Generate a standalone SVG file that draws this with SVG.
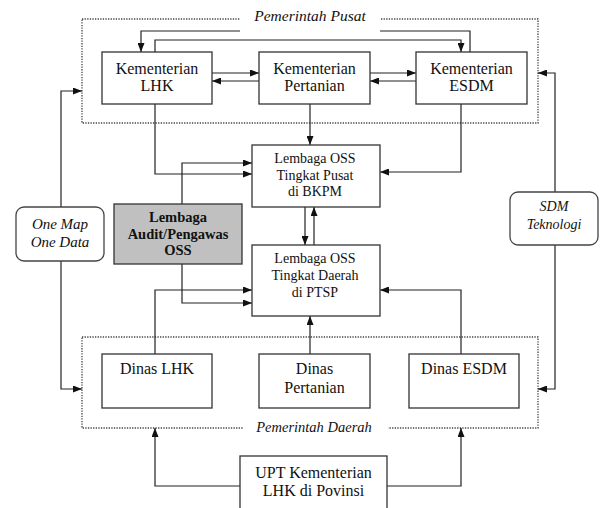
<svg xmlns="http://www.w3.org/2000/svg" width="603" height="508" viewBox="0 0 603 508">
<defs>
<style>
.box{fill:#fff;stroke:#333;stroke-width:1.3}
.audit{fill:#c0c0c0;stroke:#333;stroke-width:1.3}
.round{fill:#fff;stroke:#444;stroke-width:1.3}
.grp{fill:none;stroke:#444;stroke-width:1.3;stroke-dasharray:1.3 1.3}
.c{fill:none;stroke:#222;stroke-width:1.2;marker-end:url(#ah)}
.cn{fill:none;stroke:#222;stroke-width:1.2}
text{font-family:"Liberation Serif","Times New Roman",serif;fill:#111;text-anchor:middle}
.t16{font-size:16px}
.t14{font-size:14px}
.b{font-size:14.5px;font-weight:bold}
.i{font-style:italic}
</style>
<marker id="ah" markerWidth="9" markerHeight="7" refX="9" refY="3.5" orient="auto" markerUnits="userSpaceOnUse">
<path d="M0,0 L9,3.5 L0,7 z" fill="#111"/>
</marker>
</defs>
<rect width="603" height="508" fill="#fff"/>

<g id="pemerintah-pusat">
<rect class="grp" x="82" y="19" width="456" height="104"/>
</g>
<g id="pemerintah-daerah">
<rect class="grp" x="82" y="337" width="456" height="91"/>
</g>

<g id="connectors">
<path class="c" d="M470,52 V31 H141 V52"/>
<path class="c" d="M155,52 V40 H461 V52"/>
<path class="c" d="M212,73 H259"/>
<path class="c" d="M259,81 H212"/>
<path class="c" d="M370,73 H416"/>
<path class="c" d="M416,81 H370"/>
<path class="c" d="M310,104 V145"/>
<path class="c" d="M155,104 V174 H252"/>
<path class="c" d="M461,104 V172 H380"/>
<path class="c" d="M182,204 V163 H252"/>
<path class="c" d="M182,264 V303 H252"/>
<path class="c" d="M305,207 V245"/>
<path class="c" d="M314,245 V207"/>
<path class="c" d="M155,354 V290 H252"/>
<path class="c" d="M461,354 V290 H380"/>
<path class="c" d="M310,354 V316"/>
<path class="c" d="M240,486 H155 V428"/>
<path class="c" d="M387,486 H461 V428"/>
<path class="c" d="M61,207 V91 H82"/>
<path class="c" d="M61,261 V389 H82"/>
<path class="c" d="M555,192 V73 H538"/>
<path class="c" d="M555,245 V389 H538"/>
</g>

<g id="label-pusat">
<rect x="240" y="8" width="140" height="27" fill="#fff"/>
<text class="i" x="310" y="21" style="font-size:15.5px">Pemerintah Pusat</text>
</g>
<g id="label-daerah">
<rect x="243" y="420" width="145" height="16" fill="#fff"/>
<text class="i" x="314" y="432" style="font-size:14.5px">Pemerintah Daerah</text>
</g>

<g id="kementerian-lhk">
<rect class="box" x="102" y="52" width="110" height="52"/>
<text class="t16" x="157" y="74">Kementerian</text>
<text class="t16" x="157" y="91">LHK</text>
</g>
<g id="kementerian-pertanian">
<rect class="box" x="259" y="52" width="111" height="52"/>
<text class="t16" x="314.5" y="74">Kementerian</text>
<text class="t16" x="314.5" y="91">Pertanian</text>
</g>
<g id="kementerian-esdm">
<rect class="box" x="416" y="52" width="111" height="52"/>
<text class="t16" x="471.5" y="74">Kementerian</text>
<text class="t16" x="471.5" y="91">ESDM</text>
</g>

<g id="oss-pusat">
<rect class="box" x="252" y="145" width="128" height="62"/>
<text class="t14" x="315" y="163">Lembaga OSS</text>
<text class="t14" x="315" y="180">Tingkat Pusat</text>
<text class="t14" x="315" y="196">di BKPM</text>
</g>
<g id="oss-daerah">
<rect class="box" x="252" y="245" width="128" height="71"/>
<text class="t14" x="315" y="263">Lembaga OSS</text>
<text class="t14" x="315" y="280">Tingkat Daerah</text>
<text class="t14" x="315" y="297">di PTSP</text>
</g>
<g id="lembaga-audit">
<rect class="audit" x="114" y="204" width="128" height="60"/>
<text class="b" x="178" y="222">Lembaga</text>
<text class="b" x="178" y="239">Audit/Pengawas</text>
<text class="b" x="178" y="255">OSS</text>
</g>

<g id="one-map">
<rect class="round" x="16" y="207" width="88" height="54" rx="8"/>
<text class="i" x="60" y="229" style="font-size:15px">One Map</text>
<text class="i" x="60" y="247" style="font-size:15px">One Data</text>
</g>
<g id="sdm-teknologi">
<rect class="round" x="510" y="192" width="88" height="53" rx="8"/>
<text class="i t14" x="554" y="211">SDM</text>
<text class="i t14" x="554" y="229">Teknologi</text>
</g>

<g id="dinas-lhk">
<rect class="box" x="102" y="354" width="110" height="54"/>
<text class="t16" x="157" y="374">Dinas LHK</text>
</g>
<g id="dinas-pertanian">
<rect class="box" x="259" y="354" width="111" height="54"/>
<text class="t16" x="314.5" y="374">Dinas</text>
<text class="t16" x="314.5" y="393">Pertanian</text>
</g>
<g id="dinas-esdm">
<rect class="box" x="409" y="354" width="110" height="54"/>
<text class="t16" x="464" y="374">Dinas ESDM</text>
</g>

<g id="upt-kementerian">
<rect class="box" x="240" y="456" width="147" height="60"/>
<text class="t16" x="313.5" y="478">UPT Kementerian</text>
<text class="t16" x="313.5" y="496">LHK di Povinsi</text>
</g>
</svg>
